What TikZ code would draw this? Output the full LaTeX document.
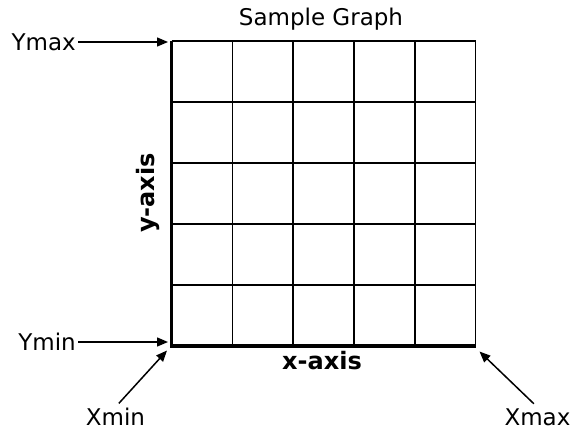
\documentclass[tikz,border=0pt]{standalone}
\usepackage{fontspec}
\setmainfont{DejaVu Sans}
\usepackage{tikz}
\usetikzlibrary{calc,arrows.meta,positioning}
\definecolor{gridBlack}{RGB}{0,0,0}

\begin{document}
\begin{tikzpicture}[x=1pt,y=-1pt,
  lbl/.style={font=\fontsize{23}{27}\selectfont, inner sep=2pt},
  axlbl/.style={lbl, font=\fontsize{24}{28}\selectfont\bfseries},
  pointer/.style={-{Triangle[length=11pt,width=9pt]}, line width=1.5pt}]
\useasboundingbox (0,0) rectangle (574,431);
\coordinate (NW) at (171.5,41);
\coordinate (SW) at (171.5,346);
\coordinate (SE) at (475.5,346);
\foreach \i in {1,...,4} {
  \draw[gridBlack, line width=1.6pt] ($(NW)+(\i*60.8,0)$) -- ($(SW)+(\i*60.8,0)$);
  \draw[gridBlack, line width=1.6pt] ($(NW)+(0,\i*61)$) -- ($(NW)+(304,\i*61)$);
}
\draw[gridBlack, line width=1.6pt] (NW) -- ($(NW)+(304,0)$) -- (SE);
\draw[gridBlack, line width=3.5pt] (NW) -- (SW) -- (SE);
\node[lbl] (title) at (321,19) {Sample Graph};
\node[axlbl] (xaxis) at (322,361) {x-axis};
\node[axlbl, rotate=90] (yaxis) at (148,193) {y-axis};
\node[lbl, anchor=east] (ymax) at (78,42) {Ymax};
\node[lbl, anchor=east] (ymin) at (78,342) {Ymin};
\node[lbl, inner sep=1pt] (xmin) at (115.5,417) {Xmin};
\node[lbl, inner sep=1pt] (xmax) at (537.5,417) {Xmax};
\coordinate (xmintip) at ($(SW)+(-4.5,4.5)$);
\coordinate (xmaxtip) at ($(SE)+(4,5.5)$);
\draw[pointer] (ymax) -- (ymax -| NW) [shorten >=3.5pt];
\draw[pointer] (ymin) -- (ymin -| SW) [shorten >=3.5pt];
\draw[pointer, shorten <=5pt] (xmin.north) -- (xmintip);
\draw[pointer, shorten <=5pt] (xmax.north) -- (xmaxtip);
\end{tikzpicture}
\end{document}
